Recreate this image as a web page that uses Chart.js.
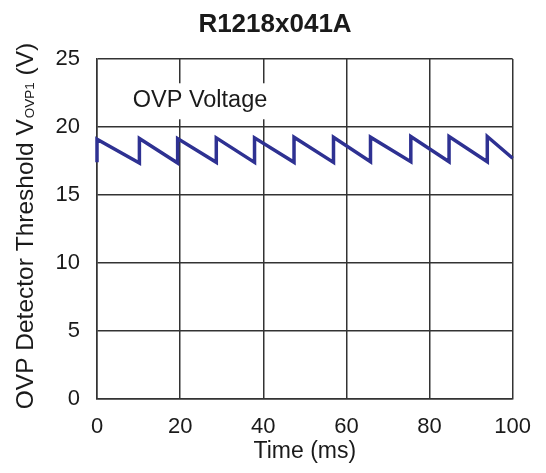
<!DOCTYPE html>
<html>
<head>
<meta charset="utf-8">
<script src="https://cdn.jsdelivr.net/npm/chart.js@4"></script>
<style>
  html, body { margin: 0; padding: 0; background: #fff; }
  #c { display: block; }
</style>
</head>
<body>
<canvas id="c" width="546" height="473"></canvas>
<script>
// ---- data ----
const chartTitle = "R1218x041A";
const xTitle = "Time (ms)";
const yTitleMain = "OVP Detector Threshold V";
const yTitleSub = "OVP1";
const yTitleEnd = " (V)";
const seriesLabel = "OVP Voltage";

const jumpTimes = [0, 10.2, 19.4, 28.7, 37.9, 47.4, 56.9, 65.8, 75.5, 84.7, 93.9];      // ms
const troughValues = [17.4, 17.35, 17.35, 17.4, 17.4, 17.4, 17.4, 17.45, 17.45, 17.45, 17.45]; // V, before each jump
const peakValues = [19.1, 19.15, 19.15, 19.2, 19.2, 19.25, 19.25, 19.25, 19.3, 19.3, 19.3];   // V, after each jump
const endTime = [100];
const endValue = [17.7];

const xTicks = [0, 20, 40, 60, 80, 100];
const yTicks = [0, 5, 10, 15, 20, 25];

// build the sawtooth points from the arrays
const points = [];
jumpTimes.forEach((t, i) => {
  points.push({ x: t, y: troughValues[i] });
  points.push({ x: t, y: peakValues[i] });
});
points.push({ x: endTime[0], y: endValue[0] });

const FONT = "'Liberation Sans', Arial, sans-serif";
const TXT = "#1a1a1a";

const textPlugin = {
  id: 'texts',
  afterDraw(chart) {
    const ctx = chart.ctx;
    const ca = chart.chartArea;
    const xs = chart.scales.x, ys = chart.scales.y;
    ctx.save();
    // title
    ctx.fillStyle = TXT;
    ctx.font = "bold 26px " + FONT;
    ctx.textAlign = "center";
    ctx.textBaseline = "alphabetic";
    ctx.fillText(chartTitle, 275, 32);

    // x title
    ctx.font = "23px " + FONT;
    ctx.fillText(xTitle, (ca.left + ca.right) / 2, 458);

    // series label with white box, anchored in data coordinates
    const lx = xs.getPixelForValue(8.6);
    const ly = ys.getPixelForValue(21.45);
    ctx.font = "23.5px " + FONT;
    const w = ctx.measureText(seriesLabel).width;
    ctx.fillStyle = "#fff";
    ctx.fillRect(lx - 7, ly - 24, w + 14, 36);
    ctx.fillStyle = TXT;
    ctx.textAlign = "left";
    ctx.fillText(seriesLabel, lx, ly);

    // y title with subscript
    const mainF = "24.5px " + FONT, subF = "13.5px " + FONT;
    ctx.font = mainF; const w1 = ctx.measureText(yTitleMain).width; const w3 = ctx.measureText(yTitleEnd).width;
    ctx.font = subF; const w2 = ctx.measureText(yTitleSub).width + 1;
    const total = w1 + w2 + w3;
    ctx.translate(33, (ca.top + ca.bottom) / 2 - 3);
    ctx.rotate(-Math.PI / 2);
    let px = -total / 2;
    ctx.textAlign = "left";
    ctx.font = mainF; ctx.fillText(yTitleMain, px, 0); px += w1 + 1;
    ctx.font = subF; ctx.fillText(yTitleSub, px, 1); px += w2 - 1;
    ctx.font = mainF; ctx.fillText(yTitleEnd, px, 0);
    ctx.restore();
  }
};

new Chart(document.getElementById('c'), {
  type: 'line',
  data: {
    datasets: [{
      label: seriesLabel,
      data: points,
      borderColor: '#2e3192',
      borderWidth: 3.5,
      pointRadius: 0,
      tension: 0,
      borderJoinStyle: 'miter',
      fill: false,
      clip: 4
    }]
  },
  options: {
    responsive: false,
    animation: false,
    devicePixelRatio: 1,
    layout: { padding: { top: 59, right: 31, left: 0, bottom: 0 } },
    plugins: { legend: { display: false }, title: { display: false }, tooltip: { enabled: false } },
    scales: {
      x: {
        type: 'linear', min: 0, max: 100,
        afterBuildTicks(s) { s.ticks = xTicks.map(v => ({ value: v })); },
        afterFit(s) { s.height = 74; },
        grid: { color: '#333', lineWidth: 1.5, drawTicks: false },
        border: { color: '#333', width: 1.5 },
        ticks: { color: TXT, font: { family: FONT, size: 22 }, padding: 15, maxRotation: 0 }
      },
      y: {
        type: 'linear', min: 0, max: 25,
        afterBuildTicks(s) { s.ticks = yTicks.map(v => ({ value: v })); },
        afterFit(s) { s.width = 97; },
        grid: { color: '#333', lineWidth: 1.5, drawTicks: false },
        border: { color: '#333', width: 1.5 },
        ticks: { color: TXT, font: { family: FONT, size: 22 }, padding: 17 }
      }
    }
  },
  plugins: [textPlugin]
});
</script>
</body>
</html>
